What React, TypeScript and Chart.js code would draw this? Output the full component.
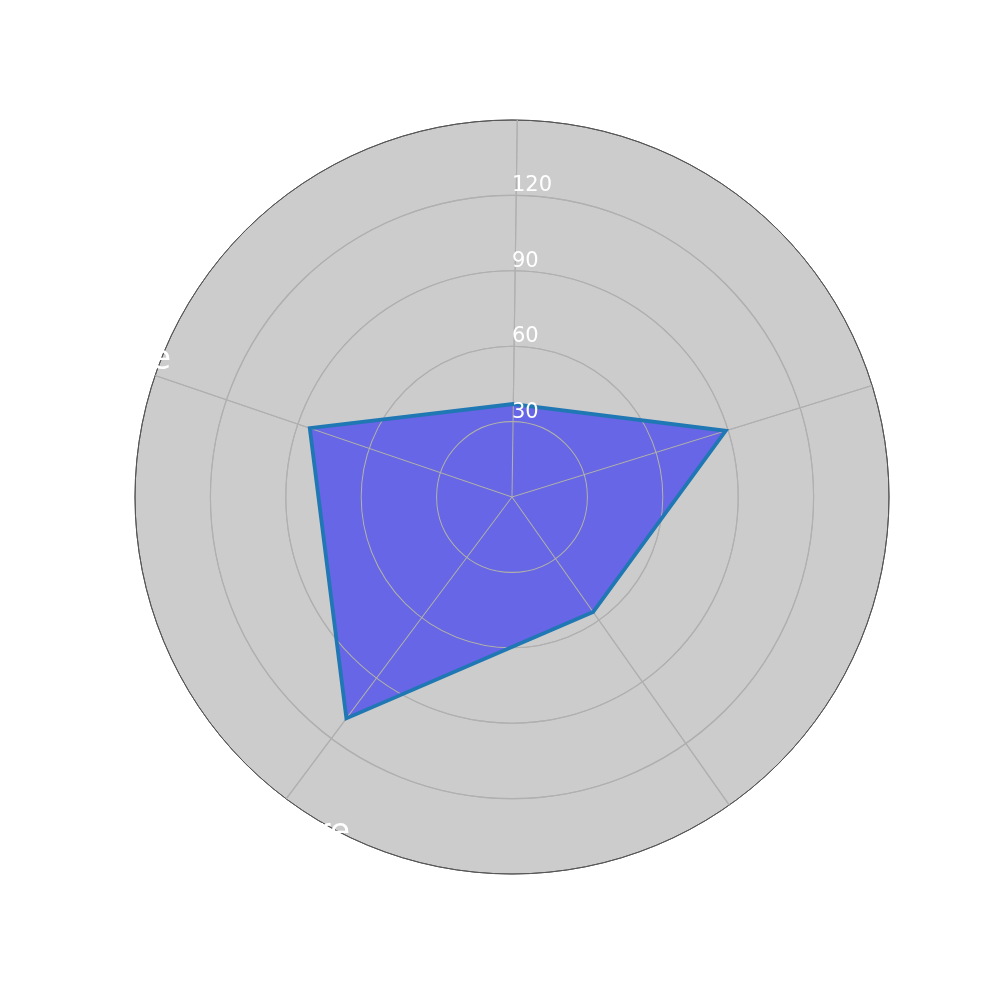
import React, { useEffect, useRef } from "react";
import { Chart, registerables } from "chart.js";

Chart.register(...registerables);

// ---- data ----
const categories: string[] = ["Innovation", "Speed", "Security", "Architecture\n& Design", "Presence"];
const values: number[] = [37, 89, 56, 110, 85];
const tickValues: number[] = [30, 60, 90, 120];
const rMin = 0;
const rMax = 150;
const rStep = 30;

const FONT = "'DejaVu Sans', 'Liberation Sans', sans-serif";

const overlayPlugin = {
  id: "mplOverlay",
  beforeDatasetDraw(chart: any, args: any) {
    // grid drawn above the fill but below the outline (matplotlib zorder)
    if (args.index === 0) {
      chart.scales.r.drawGrid();
    }
  },
  afterDatasetsDraw(chart: any) {
    const s = chart.scales.r;
    const ctx = chart.ctx as CanvasRenderingContext2D;
    ctx.save();
    ctx.fillStyle = "#ffffff";
    ctx.font = `21px ${FONT}`;
    ctx.textAlign = "left";
    ctx.textBaseline = "alphabetic";
    tickValues.forEach((v) => {
      const d = s.getDistanceFromCenterForValue(v);
      ctx.fillText(String(v), s.xCenter, s.yCenter - d - 4);
    });

    const fs = 33;
    ctx.font = `${fs}px ${FONT}`;
    ctx.textAlign = "center";
    ctx.textBaseline = "alphabetic";
    const R = s.drawingArea + 62;
    const lh = fs * 1.2;
    categories.forEach((c, i) => {
      const p = s.getPointPosition(i, R);
      const lines = c.split("\n");
      lines.forEach((ln, j) => {
        ctx.fillText(ln, p.x, p.y + 13.5 + (j - (lines.length - 1) / 2) * lh);
      });
    });
    ctx.restore();
  },
};

export default function App() {
  const ref = useRef<HTMLCanvasElement | null>(null);

  useEffect(() => {
    if (!ref.current) return;
    const chart = new Chart(ref.current, {
      type: "radar",
      data: {
        labels: categories,
        datasets: [
          {
            label: "outline",
            data: values,
            fill: false,
            borderColor: "#1f77b4",
            borderWidth: 3.8,
            borderJoinStyle: "miter",
            pointRadius: 0,
            pointHoverRadius: 0,
          },
          {
            label: "area",
            data: values,
            fill: "origin",
            backgroundColor: "rgba(0,0,255,0.5)",
            borderColor: "rgba(0,0,0,0)",
            borderWidth: 0,
            pointRadius: 0,
            pointHoverRadius: 0,
          },
        ],
      },
      options: {
        responsive: false,
        animation: false,
        layout: { padding: { left: 135, right: 111, top: 120, bottom: 125 } },
        plugins: {
          legend: { display: false },
          tooltip: { enabled: false },
        },
        elements: { line: { tension: 0 } },
        scales: {
          r: {
            min: rMin,
            max: rMax,
            startAngle: 0.8,
            backgroundColor: "#cccccc",
            ticks: { display: false, stepSize: rStep },
            pointLabels: { display: false },
            grid: {
              circular: true,
              color: (c: any) => (c.tick && c.tick.value === rMax ? "#555555" : "#b0b0b0"),
              lineWidth: (c: any) => (c.tick && c.tick.value === rMax ? 1 : 1.1),
            },
            angleLines: { color: "#b0b0b0", lineWidth: 1.1 },
          },
        },
      },
      plugins: [overlayPlugin],
    } as any);
    return () => chart.destroy();
  }, []);

  return (
    <div style={{ position: "absolute", left: 0, top: 0, width: 1000, height: 1000, background: "#ffffff" }}>
      <canvas ref={ref} width={1000} height={1000} style={{ display: "block" }} />
    </div>
  );
}
